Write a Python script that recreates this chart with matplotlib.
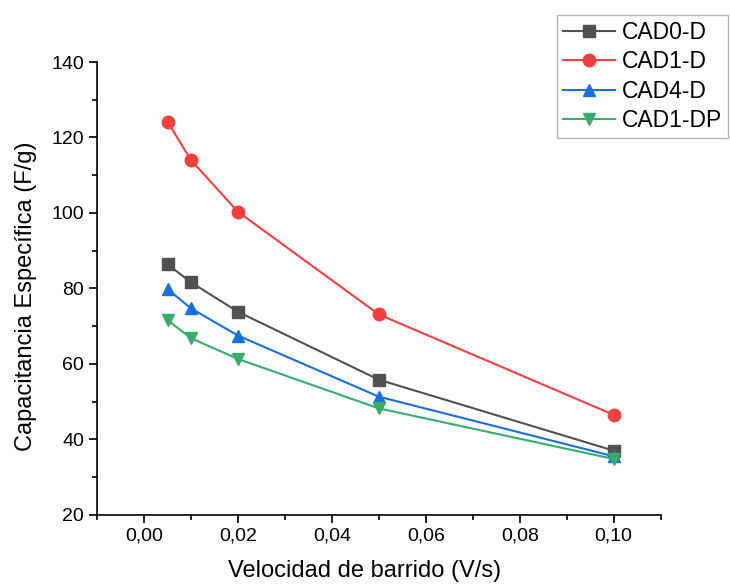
import matplotlib
matplotlib.use('Agg')
import matplotlib.pyplot as plt
from matplotlib.ticker import MultipleLocator, FuncFormatter

plt.rcParams['font.family'] = ['Liberation Sans', 'DejaVu Sans']

# Data
scan_rate = [0.005, 0.01, 0.02, 0.05, 0.10]
cad0_d = [86.4, 81.6, 73.8, 55.8, 37.0]
cad1_d = [124.2, 114.0, 100.3, 73.1, 46.5]
cad4_d = [79.8, 74.7, 67.5, 51.3, 35.5]
cad1_dp = [71.6, 66.8, 61.3, 48.2, 34.8]

labels = ['CAD0-D', 'CAD1-D', 'CAD4-D', 'CAD1-DP']
colors = ['#515151', '#F14040', '#1A6FDF', '#37AD6B']
markers = ['s', 'o', '^', 'v']

fig = plt.figure(figsize=(7.3, 5.85), dpi=100)
ax = fig.add_axes([0.133, 0.12, 0.772, 0.774])

for y, lab, c, m in zip([cad0_d, cad1_d, cad4_d, cad1_dp], labels, colors, markers):
    ax.plot(scan_rate, y, color=c, marker=m, markersize=9, linewidth=1.5, label=lab)

ax.set_xlim(-0.01, 0.11)
ax.set_ylim(20, 140)
ax.xaxis.set_major_locator(MultipleLocator(0.02))
ax.xaxis.set_minor_locator(MultipleLocator(0.01))
ax.yaxis.set_major_locator(MultipleLocator(20))
ax.yaxis.set_minor_locator(MultipleLocator(10))
ax.xaxis.set_major_formatter(FuncFormatter(lambda v, p: f'{v:.2f}'.replace('.', ',')))

for side in ['top', 'right']:
    ax.spines[side].set_visible(False)
for side in ['left', 'bottom']:
    ax.spines[side].set_linewidth(1.2)

ax.tick_params(which='major', direction='out', length=6, width=1.2, labelsize=14)
ax.tick_params(which='minor', direction='out', length=3.5, width=1.2)

ax.set_xlabel('Velocidad de barrido (V/s)', fontsize=17)
ax.set_ylabel('Capacitancia Específica (F/g)', fontsize=17)
ax.xaxis.set_label_coords(0.474, -0.10)
ax.yaxis.set_label_coords(-0.106, 0.483)

leg = fig.legend(loc='upper left', bbox_to_anchor=(557 / 730, 1 - 15 / 585),
                 borderaxespad=0, fontsize=16.5, fancybox=False, frameon=True,
                 handlelength=2.3, handletextpad=0.3, labelspacing=0.28,
                 borderpad=0.25)
leg.get_frame().set_edgecolor('#a0a0a0')
leg.get_frame().set_linewidth(1.0)

fig.savefig('out.png', dpi=100)
